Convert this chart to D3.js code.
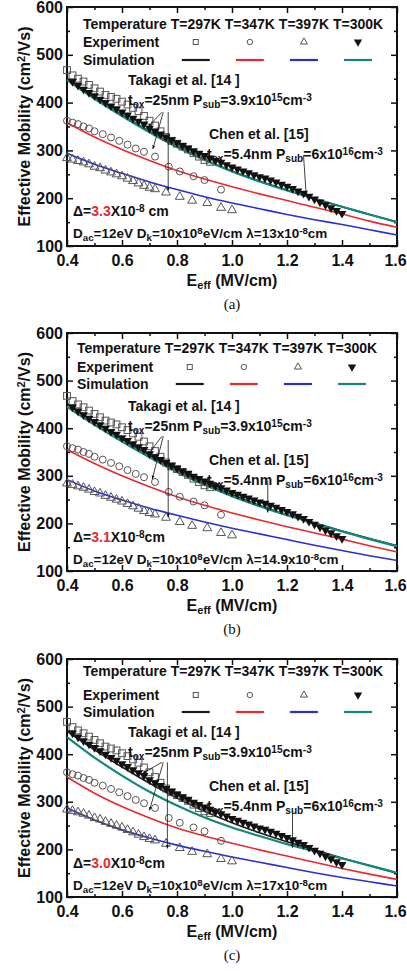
<!DOCTYPE html>
<html>
<head>
<meta charset="utf-8">
<style>
body { margin: 0; background: #fff; }
svg text { font-family: "Liberation Sans", Arial, sans-serif; font-weight: bold; fill: #111; }
.cap { font-family: "Liberation Serif", "Times New Roman", serif; font-weight: normal; }
.frame { fill: none; stroke: #111; stroke-width: 2px; }
.tick line { stroke: #111; stroke-width: 1.5px; }
.domain { display: none; }
.sim { fill: none; }
</style>
</head>
<body>
<script src="https://cdn.jsdelivr.net/npm/d3@7/dist/d3.min.js"></script>
<script>

// ---- data ----
// grid of fields for the simulated curves (MV/cm)
var simE = [0.4, 0.5, 0.6, 0.7, 0.8, 0.9, 1.0, 1.1, 1.2, 1.3, 1.4, 1.5, 1.6];

// simulation, panel (a)
var simA297 = [449, 410, 374, 340, 309, 281, 257, 236, 217, 199, 182, 166, 150];
var simA347 = [358, 328, 302, 279, 258, 240, 224, 209, 195, 181, 167, 152, 139];
var simA397 = [294, 271, 252, 234, 218, 203, 190, 178, 166, 155, 145, 134, 123];
var simA300 = [447, 408, 372, 338, 307, 280, 256, 235, 216, 199, 182, 166, 150];

// simulation, panel (b)
var simB297 = [452, 413, 377, 343, 312, 284, 260, 238, 218, 201, 184, 168, 153];
var simB347 = [355, 326, 300, 277, 256, 238, 222, 207, 193, 180, 167, 153, 140];
var simB397 = [292, 268, 249, 232, 217, 203, 190, 178, 166, 154, 143, 132, 122];
var simB300 = [445, 407, 372, 339, 308, 281, 257, 236, 217, 200, 183, 167, 152];

// simulation, panel (c)
var simC297 = [448, 409, 373, 339, 308, 280, 256, 235, 216, 199, 182, 166, 150];
var simC347 = [352, 318, 290, 266, 245, 228, 213, 199, 186, 173, 160, 148, 137];
var simC397 = [287, 262, 241, 224, 209, 196, 184, 173, 162, 151, 141, 132, 123];
var simC300 = [436, 393, 355, 321, 292, 267, 246, 228, 211, 196, 181, 166, 151];

// experiment T=297K (Takagi, squares)
var sqE  = [0.40, 0.42, 0.44, 0.46, 0.48, 0.50, 0.52, 0.54, 0.56, 0.58, 0.60, 0.62, 0.64, 0.66, 0.68,
            0.70, 0.72, 0.74, 0.76, 0.78, 0.80, 0.82, 0.84, 0.86, 0.88, 0.90, 0.92];
var sqMu = [468, 457, 450, 444, 437, 430, 423, 416, 412, 408, 402, 396, 389, 382, 372,
            362, 352, 340, 328, 320, 314, 308, 302, 294, 287, 280, 276];

// experiment T=347K (circles)
var ciE  = [0.40, 0.42, 0.44, 0.46, 0.48, 0.50, 0.53, 0.56, 0.59, 0.62, 0.65, 0.68, 0.72, 0.77, 0.81, 0.86, 0.90, 0.96];
var ciMu = [362, 358, 355, 350, 346, 340, 334, 327, 320, 312, 304, 297, 287, 266, 256, 246, 238, 218];

// experiment T=397K (open triangles)
var trE  = [0.40, 0.42, 0.44, 0.46, 0.48, 0.50, 0.52, 0.54, 0.56, 0.58, 0.60, 0.62, 0.64, 0.66, 0.68,
            0.70, 0.72, 0.76, 0.81, 0.855, 0.91, 0.96, 1.00];
var trMu = [284, 281, 278, 275, 271, 266, 263, 258, 254, 250, 246, 241, 236, 231, 226,
            222, 219, 212, 203, 195, 190, 180, 175];

// experiment T=300K (Chen, filled down triangles)
var chE  = [0.42, 0.44, 0.46, 0.48, 0.50, 0.52, 0.54, 0.56, 0.58, 0.60, 0.62, 0.64, 0.66, 0.68, 0.70,
            0.72, 0.74, 0.76, 0.78, 0.80, 0.82, 0.84, 0.86, 0.88, 0.90, 0.92, 0.94, 0.96, 0.98, 1.00,
            1.02, 1.04, 1.06, 1.08, 1.10, 1.12, 1.14, 1.16, 1.18, 1.20, 1.22, 1.24, 1.26, 1.28, 1.30,
            1.32, 1.34, 1.36, 1.38, 1.40];
var chMu = [444, 436, 428, 421, 414, 407, 400, 393, 387, 380, 374, 367, 361, 355, 346,
            340, 334, 328, 322, 316, 310, 305, 299, 294, 289, 284, 279, 275, 270, 265,
            261, 257, 253, 249, 245, 242, 238, 234, 229, 225, 220, 215, 210, 204, 198,
            192, 186, 180, 174, 168];

var tempLabels = ["T=297K", "T=347K", "T=397K", "T=300K"];
var simColors = ["#1a1a1a", "#e8292e", "#2a2fd0", "#12877a"];
var xTicks = [0.4, 0.6, 0.8, 1.0, 1.2, 1.4, 1.6];
var yTicks = [100, 200, 300, 400, 500, 600];

// ---- layout ----
var width = 407, height = 971;
var svg = d3.select("body").append("svg")
    .attr("width", width)
    .attr("height", height);

var x = d3.scaleLinear().domain([0.4, 1.6]).range([67, 397]);

var panels = [
  { tag: "(a)", top: 7,   bottom: 246, sims: [simA297, simA347, simA397, simA300],
    delta: "3.3", deltaGap: " ", lambda: "13",
    legDx: 0, legY: [17, 35, 53], chenArrow: [1.26, 290, 1.27, 205],
    arrows: [[0.745, 380, 0.695, 349], [0.75, 380, 0.712, 303], [0.768, 380, 0.768, 216]] },
  { tag: "(b)", top: 333, bottom: 571, sims: [simB297, simB347, simB397, simB300],
    delta: "3.1", deltaGap: "", lambda: "14.9",
    legDx: -6, legY: [15, 34, 51], chenArrow: [1.13, 290, 1.13, 223],
    arrows: [[0.745, 383, 0.695, 345], [0.75, 383, 0.71, 293], [0.768, 375, 0.768, 213]] },
  { tag: "(c)", top: 659, bottom: 897, sims: [simC297, simC347, simC397, simC300],
    delta: "3.0", deltaGap: "", lambda: "17",
    legDx: 0, legY: [12, 36, 53], chenArrow: [1.22, 276, 1.22, 204],
    arrows: [[0.745, 383, 0.676, 360], [0.75, 383, 0.70, 282], [0.765, 383, 0.765, 202]] }
];

// arrowhead
svg.append("defs").append("marker")
    .attr("id", "ah")
    .attr("viewBox", "0 0 10 10")
    .attr("refX", 9).attr("refY", 5)
    .attr("markerWidth", 5).attr("markerHeight", 5)
    .attr("orient", "auto")
  .append("path")
    .attr("d", "M0,1.5 L10,5 L0,8.5 Z")
    .attr("fill", "#111");

function addText(g, px, py, parts, size) {
  var t = g.append("text")
      .attr("x", px).attr("y", py)
      .attr("dy", "0.35em")
      .style("font-size", size + "px");
  parts.forEach(function(p) {
    var s = t.append("tspan").text(p.t);
    if (p.sub) s.attr("baseline-shift", "-25%").style("font-size", (size * 0.72) + "px");
    if (p.sup) s.attr("baseline-shift", "45%").style("font-size", (size * 0.72) + "px");
    if (p.red) s.style("fill", "#e8292e");
  });
  return t;
}

panels.forEach(function(p) {
  var g = svg.append("g");
  var y = d3.scaleLinear().domain([100, 600]).range([p.bottom, p.top]);
  var plotH = p.bottom - p.top;

  // axes with inward ticks, mirrored on all sides
  var xb = g.append("g")
      .attr("transform", "translate(0," + p.bottom + ")")
      .call(d3.axisBottom(x).tickValues(xTicks).tickSize(-6).tickPadding(9).tickFormat(d3.format(".1f")));
  xb.selectAll("text").style("font-size", "16px").attr("fill", "#111");
  // last label sits at the page edge, nudge it in
  xb.selectAll("text").filter(function(d) { return d == 1.6; }).attr("dx", "-2px");
  g.append("g")
      .attr("transform", "translate(0," + p.bottom + ")")
      .call(d3.axisBottom(x).tickValues(d3.range(0.5, 1.6, 0.2)).tickSize(-3).tickFormat(""));
  g.append("g")
      .attr("transform", "translate(0," + p.top + ")")
      .call(d3.axisTop(x).tickValues(xTicks).tickSize(-6).tickFormat(""));
  g.append("g")
      .attr("transform", "translate(0," + p.top + ")")
      .call(d3.axisTop(x).tickValues(d3.range(0.5, 1.6, 0.2)).tickSize(-3).tickFormat(""));
  g.append("g")
      .attr("transform", "translate(67,0)")
      .call(d3.axisLeft(y).tickValues(yTicks).tickSize(-6).tickPadding(4))
      .selectAll("text").style("font-size", "16px").attr("fill", "#111");
  g.append("g")
      .attr("transform", "translate(67,0)")
      .call(d3.axisLeft(y).tickValues([150, 250, 350, 450, 550]).tickSize(-3).tickFormat(""));
  g.append("g")
      .attr("transform", "translate(397,0)")
      .call(d3.axisRight(y).tickValues(yTicks).tickSize(-6).tickFormat(""));
  g.append("g")
      .attr("transform", "translate(397,0)")
      .call(d3.axisRight(y).tickValues([150, 250, 350, 450, 550]).tickSize(-3).tickFormat(""));

  g.append("rect").attr("class", "frame")
      .attr("x", 67).attr("y", p.top)
      .attr("width", 330).attr("height", plotH);

  // axis titles
  var yt = g.append("text")
      .attr("transform", "translate(24," + (p.top + plotH / 2) + ") rotate(-90)")
      .attr("text-anchor", "middle")
      .attr("dy", "0.35em")
      .style("font-size", "16px");
  yt.append("tspan").text("Effective Mobility (cm");
  yt.append("tspan").text("2").attr("baseline-shift", "45%").style("font-size", "11px");
  yt.append("tspan").text("/Vs)");

  var xt = g.append("text")
      .attr("x", 232).attr("y", p.bottom + 34)
      .attr("text-anchor", "middle")
      .attr("dy", "0.35em")
      .style("font-size", "16px");
  xt.append("tspan").text("E");
  xt.append("tspan").text("eff").attr("baseline-shift", "-25%").style("font-size", "11px");
  xt.append("tspan").text(" (MV/cm)");

  g.append("text").attr("class", "cap")
      .attr("x", 232).attr("y", p.bottom + 58)
      .attr("text-anchor", "middle")
      .attr("dy", "0.35em")
      .style("font-size", "15px")
      .text(p.tag);

  // simulation lines
  var line = d3.line()
      .x(function(d) { return x(d[0]); })
      .y(function(d) { return y(d[1]); })
      .curve(d3.curveMonotoneX);
  [0, 1, 2, 3].forEach(function(i) {
    g.append("path")
        .datum(simE.map(function(e, k) { return [e, p.sims[i][k]]; }))
        .attr("class", "sim")
        .attr("stroke", simColors[i])
        .attr("stroke-width", i == 3 ? 2.2 : 1.6)
        .attr("d", line);
  });

  // experiment markers
  var grey = "#555";
  g.append("g").selectAll("rect")
      .data(d3.zip(sqE, sqMu)).enter().append("rect")
      .attr("x", function(d) { return x(d[0]) - 3.4; })
      .attr("y", function(d) { return y(d[1]) - 3.4; })
      .attr("width", 6.8).attr("height", 6.8)
      .attr("fill", "none").attr("stroke", grey).attr("stroke-width", 1);
  g.append("g").selectAll("circle")
      .data(d3.zip(ciE, ciMu)).enter().append("circle")
      .attr("cx", function(d) { return x(d[0]); })
      .attr("cy", function(d) { return y(d[1]); })
      .attr("r", 3.5)
      .attr("fill", "none").attr("stroke", grey).attr("stroke-width", 1);
  var triUp = d3.symbol().type(d3.symbolTriangle).size(34);
  g.append("g").selectAll("path")
      .data(d3.zip(trE, trMu)).enter().append("path")
      .attr("d", triUp)
      .attr("transform", function(d) { return "translate(" + x(d[0]) + "," + y(d[1]) + ")"; })
      .attr("fill", "none").attr("stroke", grey).attr("stroke-width", 1);
  g.append("g").selectAll("path")
      .data(d3.zip(chE, chMu)).enter().append("path")
      .attr("d", triUp)
      .attr("transform", function(d) { return "translate(" + x(d[0]) + "," + y(d[1]) + ") rotate(180)"; })
      .attr("fill", "#111");

  // legend: one text row, markers sit under each temperature label
  var lx = 83 + p.legDx;
  var head = "Temperature " + tempLabels.join(" ");
  var ht = addText(g, lx, p.top + p.legY[0], [{ t: head }], 14);
  var node = ht.node();
  var cols = tempLabels.map(function(s) {
    var i = head.indexOf(s);
    return node.getStartPositionOfChar(i).x + node.getSubStringLength(i, s.length) / 2;
  });
  addText(g, lx, p.top + p.legY[1], [{ t: "Experiment" }], 14);
  addText(g, lx, p.top + p.legY[2], [{ t: "Simulation" }], 14);
  var ly = p.top + p.legY[1];
  g.append("rect").attr("x", cols[0] - 2.5).attr("y", ly - 2.5).attr("width", 5).attr("height", 5)
      .attr("fill", "none").attr("stroke", grey);
  g.append("circle").attr("cx", cols[1]).attr("cy", ly).attr("r", 2.7)
      .attr("fill", "none").attr("stroke", grey);
  g.append("path").attr("d", d3.symbol().type(d3.symbolTriangle).size(22))
      .attr("transform", "translate(" + cols[2] + "," + ly + ")")
      .attr("fill", "none").attr("stroke", grey);
  g.append("path").attr("d", d3.symbol().type(d3.symbolTriangle).size(30))
      .attr("transform", "translate(" + cols[3] + "," + ly + ") rotate(180)")
      .attr("fill", "#111");
  simColors.forEach(function(c, i) {
    g.append("line")
        .attr("x1", cols[i] - 14).attr("x2", cols[i] + 14)
        .attr("y1", p.top + p.legY[2]).attr("y2", p.top + p.legY[2])
        .attr("stroke", c).attr("stroke-width", 2.2);
  });

  // annotations
  addText(g, 128, p.top + 73, [{ t: "Takagi et al. [14 ]" }], 14);
  addText(g, 128, p.top + 93, [{ t: "t" }, { t: "ox", sub: 1 }, { t: "=25nm P" }, { t: "sub", sub: 1 },
      { t: "=3.9x10" }, { t: "15", sup: 1 }, { t: "cm" }, { t: "-3", sup: 1 }], 14);
  addText(g, 209, p.top + 127, [{ t: "Chen et al. [15]" }], 14);
  addText(g, 207, p.top + 147, [{ t: "t" }, { t: "ox", sub: 1 }, { t: "=5.4nm P" }, { t: "sub", sub: 1 },
      { t: "=6x10" }, { t: "16", sup: 1 }, { t: "cm" }, { t: "-3", sup: 1 }], 14);
  addText(g, 73, p.top + 204, [{ t: "\u0394=" }, { t: p.delta, red: 1 }, { t: "X10" }, { t: "-8", sup: 1 },
      { t: p.deltaGap + "cm" }], 14);
  addText(g, 73, p.top + 226, [{ t: "D" }, { t: "ac", sub: 1 }, { t: "=12eV D" }, { t: "k", sub: 1 },
      { t: "=10x10" }, { t: "8", sup: 1 }, { t: "eV/cm \u03bb=" + p.lambda + "x10" }, { t: "-8", sup: 1 },
      { t: "cm" }], 13.5);

  p.arrows.forEach(function(a) {
    g.append("line")
        .attr("x1", x(a[0])).attr("y1", y(a[1]))
        .attr("x2", x(a[2])).attr("y2", y(a[3]))
        .attr("stroke", "#111").attr("stroke-width", 0.8)
        .attr("marker-end", "url(#ah)");
  });
  var c = p.chenArrow;
  g.append("line")
      .attr("x1", x(c[0])).attr("y1", y(c[1]))
      .attr("x2", x(c[2])).attr("y2", y(c[3]))
      .attr("stroke", "#111").attr("stroke-width", 0.8)
      .attr("marker-end", "url(#ah)");
});

</script>
</body>
</html>
